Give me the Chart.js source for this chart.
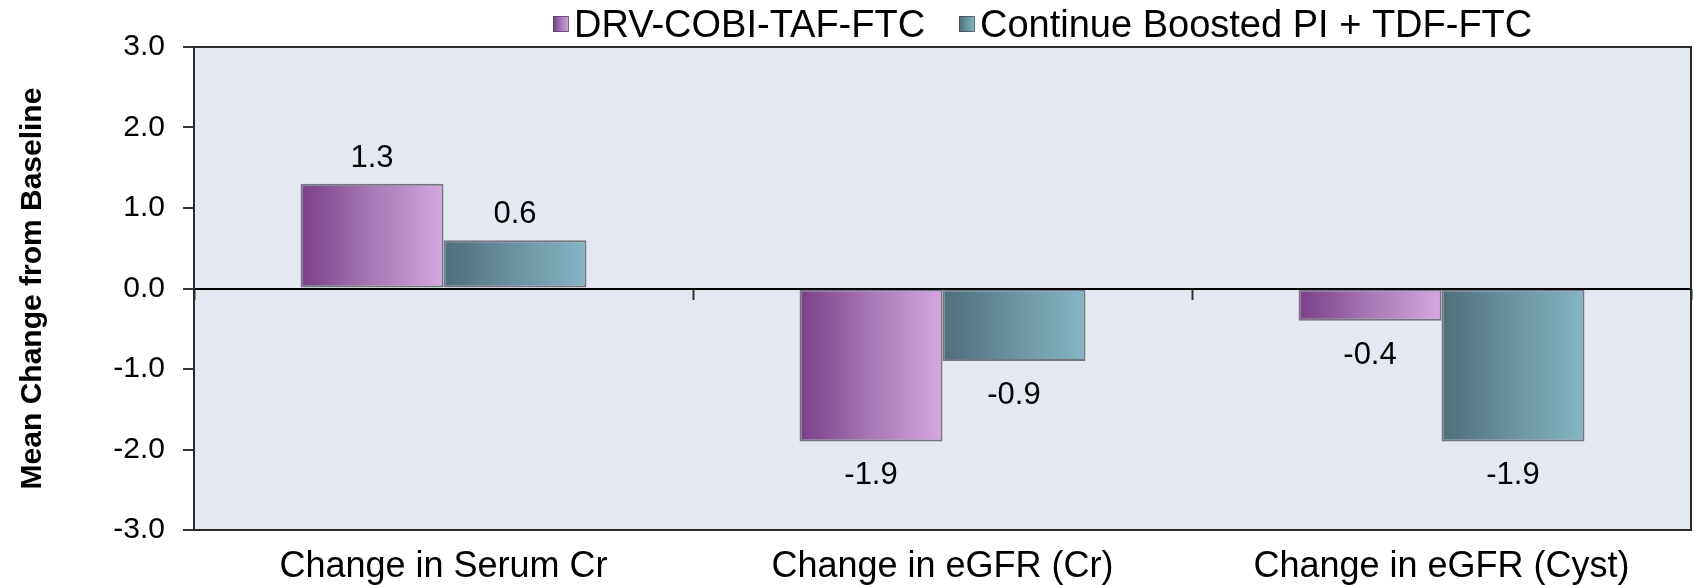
<!DOCTYPE html>
<html>
<head>
<meta charset="utf-8">
<title>Mean Change from Baseline</title>
<script src="https://cdn.jsdelivr.net/npm/chart.js@4.4.1/dist/chart.umd.min.js"></script>
<style>
  html, body { margin: 0; padding: 0; background: #fff; }
  #wrap { width: 1694px; height: 585px; }
</style>
</head>
<body>
<div id="wrap"><canvas id="renalChart"></canvas></div>
<script>
// chart data
const categories = ['Change in Serum Cr', 'Change in eGFR (Cr)', 'Change in eGFR (Cyst)'];
const seriesNames = ['DRV-COBI-TAF-FTC', 'Continue Boosted PI + TDF-FTC'];
const drvValues = [1.3, -1.9, -0.4];
const boostedValues = [0.6, -0.9, -1.9];
const yTicks = [-3, -2, -1, 0, 1, 2, 3];

const FONT = '"Liberation Sans", Arial, Helvetica, sans-serif';

// left-to-right shading for each series (dark, mid, light)
const shades = [
  ['#7a3f88', '#a877b5', '#d7a7e2'],
  ['#4e6e7b', '#6a92a0', '#86b6c7']
];

function shade(ctx, i, x0, x1) {
  const g = ctx.createLinearGradient(x0, 0, x1, 0);
  g.addColorStop(0, shades[i][0]);
  g.addColorStop(0.5, shades[i][1]);
  g.addColorStop(1, shades[i][2]);
  return g;
}

// plot area fill + frame
const plotFrame = {
  id: 'plotFrame',
  beforeDraw(chart) {
    const { ctx, chartArea: a } = chart;
    ctx.save();
    ctx.fillStyle = '#e4e8f0';
    ctx.fillRect(a.left, a.top, a.right - a.left, a.bottom - a.top);
    ctx.restore();
  },
  beforeDatasetsDraw(chart) {
    const { ctx, chartArea: a } = chart;
    ctx.save();
    ctx.strokeStyle = '#2b2b2b';
    ctx.lineWidth = 2;
    ctx.strokeRect(a.left, a.top, a.right - a.left, a.bottom - a.top);
    ctx.restore();
  }
};

// horizontal gradient on every bar, using the bar's own geometry
const barShading = {
  id: 'barShading',
  beforeDatasetsDraw(chart) {
    chart.data.datasets.forEach((ds, i) => {
      chart.getDatasetMeta(i).data.forEach(bar => {
        const { x, width } = bar.getProps(['x', 'width'], true);
        bar.options = Object.assign({}, bar.options, {
          backgroundColor: shade(chart.ctx, i, x - width / 2, x + width / 2)
        });
      });
    });
  }
};

// value labels above / below bars
const valueLabels = {
  id: 'valueLabels',
  afterDatasetsDraw(chart) {
    const ctx = chart.ctx;
    ctx.save();
    ctx.font = '31px ' + FONT;
    ctx.fillStyle = '#000';
    ctx.textAlign = 'center';
    ctx.textBaseline = 'alphabetic';
    chart.data.datasets.forEach((ds, i) => {
      chart.getDatasetMeta(i).data.forEach((bar, j) => {
        const v = ds.data[j];
        const y = v >= 0 ? bar.y - 17 : bar.y + 43;
        ctx.fillText(v.toFixed(1), bar.x, y);
      });
    });
    ctx.restore();
  }
};

// legend row at the top
const topLegend = {
  id: 'topLegend',
  afterDraw(chart) {
    const ctx = chart.ctx;
    ctx.save();
    ctx.font = '38px ' + FONT;
    ctx.textBaseline = 'middle';
    const starts = [553, 959];
    chart.data.datasets.forEach((ds, i) => {
      const x = starts[i];
      ctx.fillStyle = shade(ctx, i, x, x + 16);
      ctx.fillRect(x, 16, 16, 16);
      ctx.strokeStyle = 'rgba(60,60,70,0.6)';
      ctx.lineWidth = 1;
      ctx.strokeRect(x + 0.5, 16.5, 15, 15);
      ctx.fillStyle = '#000';
      ctx.fillText(ds.label, x + 21, 27);
    });
    ctx.restore();
  }
};

const barStyle = {
  categoryPercentage: 0.573,
  barPercentage: 1,
  borderColor: () => 'rgba(70,70,80,0.7)',
  borderWidth: 2,
  borderSkipped: false
};

new Chart(document.getElementById('renalChart'), {
  type: 'bar',
  data: {
    labels: categories,
    datasets: [
      Object.assign({ label: seriesNames[0], data: drvValues, backgroundColor: () => shades[0][1] }, barStyle),
      Object.assign({ label: seriesNames[1], data: boostedValues, backgroundColor: () => shades[1][1] }, barStyle)
    ]
  },
  options: {
    responsive: true,
    maintainAspectRatio: false,
    animation: false,
    layout: { padding: { top: 47, right: 3, left: 0, bottom: 0 } },
    plugins: {
      legend: { display: false },
      tooltip: { enabled: false }
    },
    scales: {
      x: {
        ticks: { color: '#000', font: { size: 36, family: FONT }, padding: 7 },
        grid: { display: false },
        border: { display: false },
        afterFit: s => { s.height = 55; }
      },
      // short marks on the zero line between categories
      x2: {
        type: 'category',
        labels: categories,
        position: { y: 0 },
        offset: true,
        ticks: { display: false },
        grid: { offset: true, drawOnChartArea: false, tickLength: 11, tickWidth: 2, tickColor: '#333' },
        border: { display: false }
      },
      y: {
        min: -3,
        max: 3,
        afterBuildTicks: s => { s.ticks = yTicks.map(v => ({ value: v })); },
        ticks: {
          color: '#000',
          font: { size: 30, family: FONT },
          padding: 18,
          callback: v => v.toFixed(1)
        },
        grid: {
          color: c => (c.tick && c.tick.value === 0) ? '#000' : 'rgba(0,0,0,0)',
          lineWidth: 2,
          tickColor: '#333',
          tickLength: 11,
          tickWidth: 2
        },
        border: { display: false },
        title: {
          display: true,
          text: 'Mean Change from Baseline',
          color: '#000',
          font: { size: 30, weight: 'bold', family: FONT },
          padding: { top: 15, bottom: 0 }
        },
        afterFit: s => { s.width = 194; }
      }
    }
  },
  plugins: [plotFrame, barShading, valueLabels, topLegend]
});
</script>
</body>
</html>
